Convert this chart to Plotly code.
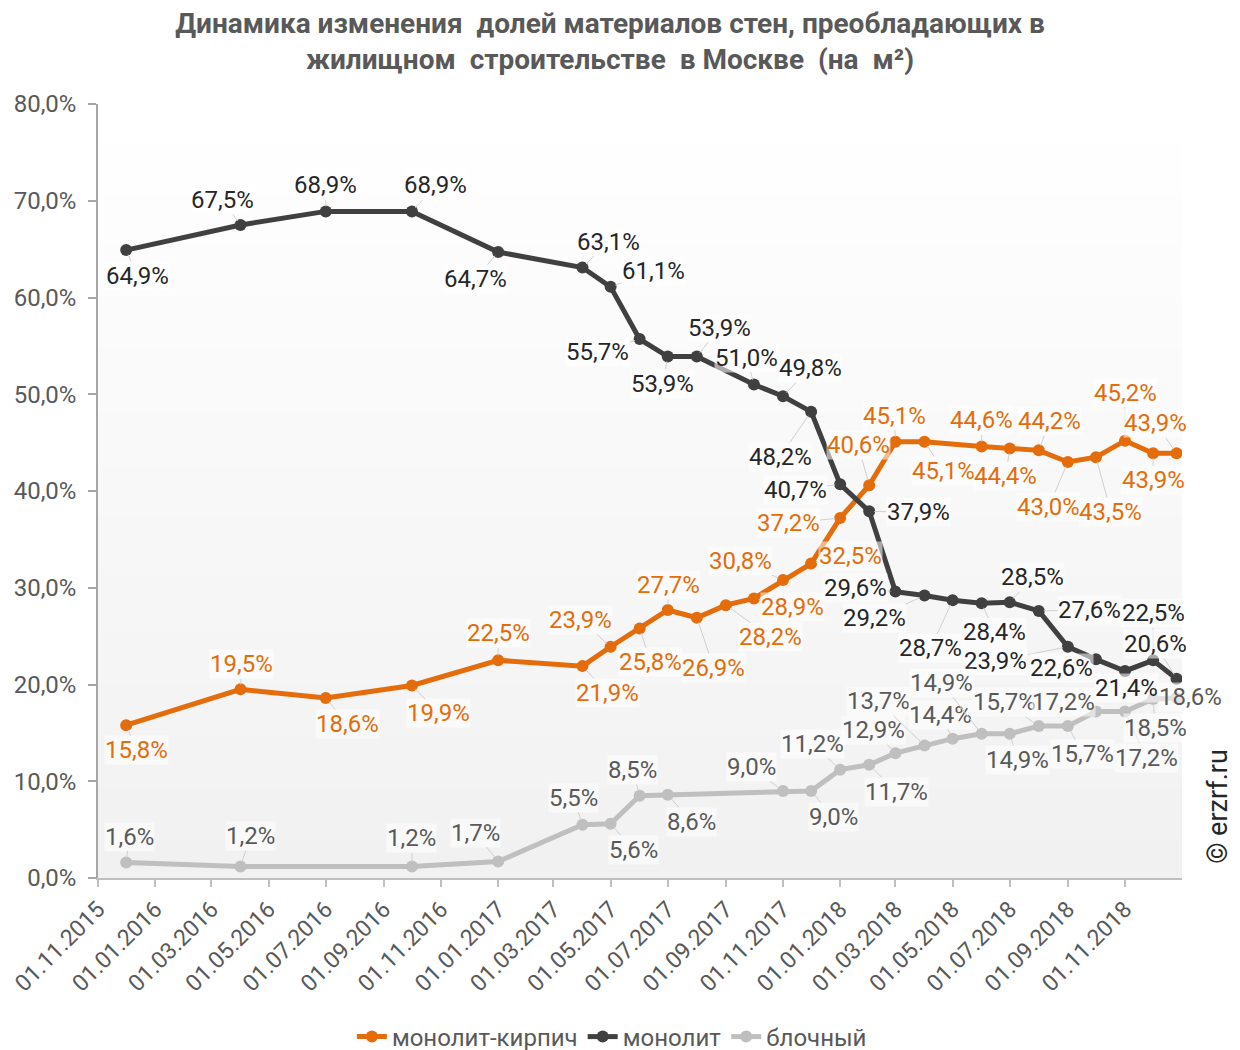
import plotly.graph_objects as go

# ---------------- data ----------------
dates = [
    "2015-12-01", "2016-04-01", "2016-07-01", "2016-10-01", "2017-01-01",
    "2017-04-01", "2017-05-01", "2017-06-01", "2017-07-01", "2017-08-01",
    "2017-09-01", "2017-10-01", "2017-11-01", "2017-12-01",
    "2018-01-01", "2018-02-01", "2018-03-01", "2018-04-01", "2018-05-01",
    "2018-06-01", "2018-07-01", "2018-08-01", "2018-09-01", "2018-10-01",
    "2018-11-01", "2018-12-01", "2018-12-26",
]

monolit_kirpich = [15.8, 19.5, 18.6, 19.9, 22.5,
                   21.9, 23.9, 25.8, 27.7, 26.9, 28.2, 28.9, 30.8, 32.5,
                   37.2, 40.6, 45.1, 45.1, None, 44.6, 44.4, 44.2, 43.0, 43.5,
                   45.2, 43.9, 43.9]

monolit = [64.9, 67.5, 68.9, 68.9, 64.7,
           63.1, 61.1, 55.7, 53.9, 53.9, None, 51.0, 49.8, 48.2,
           40.7, 37.9, 29.6, 29.2, 28.7, 28.4, 28.5, 27.6, 23.9, 22.6,
           21.4, 22.5, 20.6]

blochny = [1.6, 1.2, None, 1.2, 1.7,
           5.5, 5.6, 8.5, 8.6, None, None, None, 9.0, 9.0,
           11.2, 11.7, 12.9, 13.7, 14.4, 14.9, 14.9, 15.7, 15.7, 17.2,
           17.2, 18.5, 18.6]

series_names = ["монолит-кирпич", "монолит", "блочный"]

# ---------------- styles ----------------
line_colors = ["#E46C0A", "#404040", "#BFBFBF"]
label_colors = ["#E46C0A", "#262626", "#595959"]

# label offsets in pixels (dx, dy) relative to each point
off_mk = [(10, 25), (1, -25), (22, 26), (27, 28), (0, -27),
          (25, 27), (-30, -27), (11, 34), (1, -25), (17, 50), (45, 32), (39, 9), (-43, -19), (39, -8),
          (-52, 5), (-11, -40), (-1, -26), (19, 29), None, (0, -26), (-4, 28), (11, -29), (-19, 45), (15, 55),
          (0, -48), (0, 27), (-21, -30)]
off_m = [(11, 26), (-18, -25), (0, -26), (24, -26), (-23, 27),
         (26, -26), (43, -16), (-42, 13), (-5, 27), (23, -29), None, (-7, -27), (27, -28), (-31, 45),
         (-45, 6), (49, 1), (-40, -4), (-50, 23), (-22, 48), (13, 29), (23, -25), (51, -1), (-72, 14), (-34, 9),
         (1, 17), (0, -47), (-21, -35)]
off_b = [(3, -26), (10, -30), None, (0, -28), (-23, -29),
         (-9, -27), (23, 26), (-7, -26), (24, 27), None, None, None, (-32, -24), (22, 26),
         (-28, -26), (27, 27), (-22, -23), (-46, -44), (-12, -24), (-40, -51), (8, 26), (-34, -24), (15, 28),
         (-32, -10), (21, 46), (2, 29), (14, -1)]

FONT = "Roboto, 'Open Sans', sans-serif"

fig = go.Figure()

all_vals = [monolit_kirpich, monolit, blochny]
all_offs = [off_mk, off_m, off_b]

for name, vals, col in zip(series_names, all_vals, line_colors):
    fig.add_trace(go.Scatter(
        x=dates, y=vals, name=name, mode="lines+markers", connectgaps=True,
        line=dict(color=col, width=5),
        marker=dict(color=col, size=12),
        hoverinfo="skip",
    ))

annotations = []
for vals, offs, col in zip(all_vals, all_offs, label_colors):
    for d, v, o in zip(dates, vals, offs):
        if v is None:
            continue
        txt = f"{v:.1f}".replace(".", ",") + "%"
        annotations.append(dict(
            x=d, y=v, xref="x", yref="y", text=txt,
            showarrow=True, arrowhead=0, arrowwidth=1, arrowcolor="#D0D0D0",
            standoff=5, ax=o[0], ay=o[1],
            font=dict(family=FONT, size=24, color=col),
            bgcolor="rgba(255,255,255,0.55)", borderpad=0,
        ))

annotations.append(dict(
    text="© erzrf.ru", xref="paper", yref="paper", x=1.033, y=0.093,
    showarrow=False, textangle=-90, xanchor="center", yanchor="middle",
    font=dict(family=FONT, size=27, color="#262626"),
))

# gradient plot background
shapes = []
N = 60
for k in range(N):
    t = k / (N - 1)
    c = int(round(241 + (255 - 241) * t))
    shapes.append(dict(
        type="rect", xref="paper", yref="paper", x0=0, x1=1,
        y0=k / N, y1=(k + 1) / N + 0.002,
        fillcolor=f"rgb({c},{c},{c})", line=dict(width=0), layer="below",
    ))

fig.update_layout(
    width=1240, height=1050, autosize=False,
    margin=dict(l=90, r=66, t=96, b=180),
    paper_bgcolor="white", plot_bgcolor="rgba(0,0,0,0)",
    separators=", ",
    title=dict(
        text="<b>Динамика изменения  долей материалов стен, преобладающих в<br>жилищном  строительстве  в Москве  (на  м²)</b>",
        x=0.4855, xref="container", xanchor="center",
        y=1 - 25 / 1050, yref="container", yanchor="middle",
        font=dict(family=FONT, size=28, color="#595959"),
    ),
    xaxis=dict(
        type="date", range=["2015-10-31 22:00", "2018-12-31 20:00"],
        tick0="2015-11-01", dtick="M2", tickformat="%d.%m.%Y", tickangle=-45,
        ticklabeloverflow="allow",
        showline=True, linecolor="#BFBFBF", linewidth=1.5,
        ticks="outside", ticklen=7, tickcolor="#BFBFBF", tickwidth=1.5,
        showgrid=False, zeroline=False, automargin=False,
        tickfont=dict(family=FONT, size=23, color="#595959"),
    ),
    yaxis=dict(
        range=[0, 80], dtick=10, tick0=0, tickformat=".1f", ticksuffix="%",
        showline=True, linecolor="#A6A6A6", linewidth=1.5,
        ticks="outside", ticklen=8, tickcolor="#A6A6A6", tickwidth=1.5,
        ticklabelstandoff=7,
        showgrid=False, zeroline=False, automargin=False,
        tickfont=dict(family=FONT, size=24, color="#595959"),
    ),
    legend=dict(
        orientation="h", xref="container", x=0.487, xanchor="center",
        yref="container", y=1 - 1029 / 1050, yanchor="middle",
        font=dict(family=FONT, size=24, color="#595959"),
        bgcolor="rgba(0,0,0,0)",
    ),
    annotations=annotations,
    shapes=shapes,
    showlegend=True,
)

fig.write_html("out.html")
